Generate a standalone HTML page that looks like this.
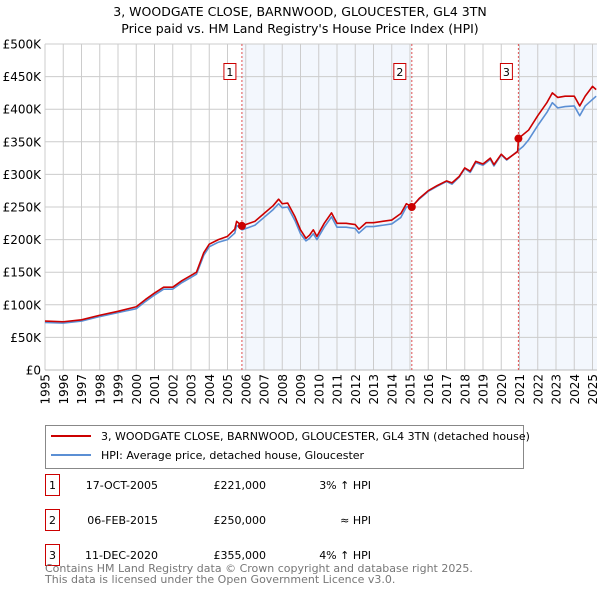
<!DOCTYPE html>
<html><head><meta charset="utf-8"><style>
body{margin:0;background:#fff;font-family:"Liberation Sans","DejaVu Sans",sans-serif;}
svg text{font-family:"DejaVu Sans","Liberation Sans",sans-serif;}
</style></head><body>
<svg id="chart" width="600" height="590" viewBox="0 0 600 590">
<text x="300" y="16" text-anchor="middle" font-size="12.5">3, WOODGATE CLOSE, BARNWOOD, GLOUCESTER, GL4 3TN</text>
<text x="300" y="33" text-anchor="middle" font-size="12.5">Price paid vs. HM Land Registry's House Price Index (HPI)</text>
<g id="plot"></g>
<g>
<rect x="45.5" y="425.5" width="478" height="43" fill="#fff" stroke="#888"/>
<line x1="51" y1="436" x2="91" y2="436" stroke="#cc0000" stroke-width="2"/>
<text x="101" y="440" font-size="11">3, WOODGATE CLOSE, BARNWOOD, GLOUCESTER, GL4 3TN (detached house)</text>
<line x1="51" y1="455" x2="91" y2="455" stroke="#5b8fd4" stroke-width="2"/>
<text x="101" y="459" font-size="11">HPI: Average price, detached house, Gloucester</text>
</g>
<g font-size="11">
<rect x="45.5" y="474.5" width="14" height="21" fill="#fff" stroke="#cc0000"/><text x="52.5" y="489" text-anchor="middle">1</text>
<text x="158" y="489" text-anchor="end">17-OCT-2005</text><text x="266" y="489" text-anchor="end">£221,000</text><text x="371" y="489" text-anchor="end">3% ↑ HPI</text>
<rect x="45.5" y="509.5" width="14" height="21" fill="#fff" stroke="#cc0000"/><text x="52.5" y="524" text-anchor="middle">2</text>
<text x="158" y="524" text-anchor="end">06-FEB-2015</text><text x="266" y="524" text-anchor="end">£250,000</text><text x="371" y="524" text-anchor="end">≈ HPI</text>
<rect x="45.5" y="544.5" width="14" height="21" fill="#fff" stroke="#cc0000"/><text x="52.5" y="559" text-anchor="middle">3</text>
<text x="158" y="559" text-anchor="end">11-DEC-2020</text><text x="266" y="559" text-anchor="end">£355,000</text><text x="371" y="559" text-anchor="end">4% ↑ HPI</text>
</g>
<text x="45" y="572" font-size="11" fill="#777">Contains HM Land Registry data © Crown copyright and database right 2025.</text>
<text x="45" y="583" font-size="11" fill="#777">This data is licensed under the Open Government Licence v3.0.</text>
</svg>
<script>
const yTicks=[0,50,100,150,200,250,300,350,400,450,500];
const yTickLabels=["£0","£50K","£100K","£150K","£200K","£250K","£300K","£350K","£400K","£450K","£500K"];
const xYears=[1995,1996,1997,1998,1999,2000,2001,2002,2003,2004,2005,2006,2007,2008,2009,2010,2011,2012,2013,2014,2015,2016,2017,2018,2019,2020,2021,2022,2023,2024,2025];
const saleYears=[2005.79,2015.10,2020.94];
const saleValues=[221,250,355];
const saleLabels=["1","2","3"];
const priceYears=[1995,1996,1997,1998,1999,2000,2000.5,2001,2001.5,2002,2002.5,2003,2003.3,2003.7,2004,2004.5,2005,2005.4,2005.5,2005.79,2006.2,2006.5,2007,2007.5,2007.8,2008,2008.3,2008.7,2009,2009.3,2009.5,2009.7,2009.9,2010.3,2010.7,2011,2011.5,2012,2012.2,2012.6,2013,2013.5,2014,2014.5,2014.8,2015.1,2015.5,2016,2016.5,2017,2017.3,2017.7,2018,2018.3,2018.6,2019,2019.4,2019.6,2020,2020.3,2020.9,2020.94,2021.5,2022,2022.5,2022.8,2023.1,2023.5,2024,2024.3,2024.6,2025,2025.2];
const priceValues=[75,74,77,84,90,97,108,118,127,127,137,145,150,180,193,200,205,216,228,221,225,228,240,252,262,255,256,235,215,202,207,215,205,225,241,225,225,223,216,226,226,228,230,240,255,250,263,275,283,290,287,297,310,305,320,316,325,315,331,323,335,355,368,390,410,425,418,420,420,405,420,435,430];
const hpiYears=[1995,1996,1997,1998,1999,2000,2000.5,2001,2001.5,2002,2002.5,2003,2003.3,2003.7,2004,2004.5,2005,2005.4,2005.5,2005.79,2006.2,2006.5,2007,2007.5,2007.8,2008,2008.3,2008.7,2009,2009.3,2009.5,2009.7,2009.9,2010.3,2010.7,2011,2011.5,2012,2012.2,2012.6,2013,2013.5,2014,2014.5,2014.8,2015.1,2015.5,2016,2016.5,2017,2017.3,2017.7,2018,2018.3,2018.6,2019,2019.4,2019.6,2020,2020.3,2020.9,2021.2,2021.5,2022,2022.5,2022.8,2023.1,2023.5,2024,2024.3,2024.6,2025,2025.2];
const hpiValues=[73,72,75,82,88,94,105,115,124,124,134,142,147,176,189,196,200,210,222,215,219,222,234,246,255,249,250,229,209,198,202,209,200,219,235,219,219,217,210,220,220,222,224,234,250,251,262,274,282,289,285,296,309,303,318,314,323,313,330,322,336,343,353,375,395,410,402,404,405,390,405,415,420];
const X0=45,XS=18.25,Y0=370,YS=326/500,XR=597,YT=44;
const x=y=>X0+(y-1995)*XS, y=v=>Y0-v*YS;
const NS="http://www.w3.org/2000/svg";
const g=document.getElementById('plot');
function mk(t,a){const e=document.createElementNS(NS,t);for(const k in a)e.setAttribute(k,a[k]);g.appendChild(e);return e;}
let s1=mk('rect',{x:x(saleYears[0]),y:YT,width:x(saleYears[1])-x(saleYears[0]),height:Y0-YT,fill:'#eef3fc',opacity:0.7});


let s2=mk('rect',{x:x(saleYears[2]),y:YT,width:XR-x(saleYears[2]),height:Y0-YT,fill:'#eef3fc',opacity:0.7});


yTicks.forEach((t,i)=>{
 let l=mk('line',{x1:X0,x2:XR,y1:y(t),y2:y(t),stroke:'#ccc','stroke-width':1});
 
 
 let tx=mk('text',{x:41,y:y(t)+4.5,'text-anchor':'end','font-size':12});
 tx.textContent=yTickLabels[i];
 
 
});
xYears.forEach(yr=>{
 let l=mk('line',{x1:x(yr),x2:x(yr),y1:YT,y2:Y0,stroke:'#ccc','stroke-width':1});
 
 
 const px=x(yr)+4.5, py=374;
 let tx=mk('text',{x:px,y:py,'text-anchor':'end','font-size':12,transform:`rotate(-90 ${px} ${py})`});
 tx.textContent=yr;
 
 
});
let ax=mk('line',{x1:X0,x2:XR,y1:Y0,y2:Y0,stroke:'#bbb'});


saleYears.forEach((sy,i)=>{
 let l=mk('line',{x1:x(sy),x2:x(sy),y1:YT,y2:Y0,stroke:'#e05050','stroke-dasharray':'2,2'});
 
 
 let r=mk('rect',{x:x(sy)-18,y:63.5,width:12,height:16,fill:'#fff',stroke:'#cc0000'});
 
 
 let t=mk('text',{x:x(sy)-12,y:76,'text-anchor':'middle','font-size':11});
 t.textContent=saleLabels[i];
 
 
});
function line(xs,vs,c,n){
 let p=mk('polyline',{points:xs.map((a,i)=>x(a)+','+y(vs[i])).join(' '),fill:'none',stroke:c,'stroke-width':1.6,'stroke-linejoin':'round'});
 
 
}
line(hpiYears,hpiValues,'#5b8fd4','hpi-line');
line(priceYears,priceValues,'#cc0000','price-line');
saleYears.forEach((sy,i)=>{
 let c=mk('circle',{cx:x(sy),cy:y(saleValues[i]),r:4,fill:'#cc0000'});
 
 
});
</script>
</body></html>
